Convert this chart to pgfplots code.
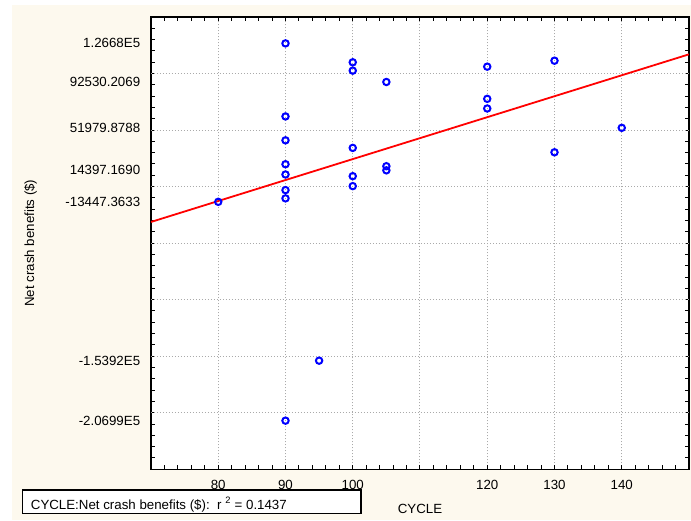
\documentclass[border=0pt]{standalone}
\usepackage{fontspec}
\setmainfont{Liberation Sans}
\usepackage{pgfplots}
\pgfplotsset{compat=1.18}
\definecolor{panel}{RGB}{253,249,238}
\definecolor{gridgray}{RGB}{170,170,170}

\begin{document}
\begin{tikzpicture}[x=1pt,y=1pt,font=\fontsize{13.3}{16}\selectfont]
% page extent and cream panel behind the plot
\path (-151,-50.7) rectangle (540,469.3);
\fill[panel] (-139,-50.7) rectangle (540,464.3);
\begin{axis}[
  scale only axis, width=538pt, height=452.3pt,
  xmin=70, xmax=150, ymin=-250000, ymax=150000,
  axis background/.style={fill=white},
  axis line style={black, line width=1.6pt},
  tick align=inside,
  major tick length=0pt, minor tick length=4pt,
  tick style={black, line width=1pt},
  xtick={80,90,100,110,120,130,140},
  xticklabels={80,90,100,,120,130,140},
  minor xtick={70,72,...,150},
  xmajorgrids=true,
  ytick={126680,92530.2069,51979.8788,14397.1690,-13447.3633,-153920,-206990},
  yticklabels={1.2668E5,92530.2069,51979.8788,14397.1690,-13447.3633,-1.5392E5,-2.0699E5},
  ymajorgrids=false,
  extra y ticks={-200000,-150000,-100000,-50000,0,50000,100000},
  extra y tick labels={},
  extra y tick style={grid=major},
  minor ytick={-250000,-240000,-230000,-220000,-210000,-200000,-190000,-180000,-170000,-160000,
               -150000,-140000,-130000,-120000,-110000,-100000,-90000,-80000,-70000,-60000,
               -50000,-40000,-30000,-20000,-10000,0,10000,20000,30000,40000,
               50000,60000,70000,80000,90000,100000,110000,120000,130000,140000,150000},
  major grid style={gridgray, line width=1pt, dash pattern=on 1.2pt off 1.8pt},
  yticklabel style={xshift=-7.3pt},
  xticklabel style={yshift=-7pt},
  scaled y ticks=false,
  xlabel={CYCLE},
  xlabel style={at={(axis description cs:0.5,-0.0882)}, anchor=center},
  ylabel={Net crash benefits (\$)},
  ylabel style={at={(axis description cs:-0.2236,0.5)}, anchor=center},
]
% observations
\addplot[only marks, mark=o, mark size=3.2pt, blue,
         mark options={solid, line width=2pt}] coordinates {
  (80,-13447.3633)
  (90,126680) (90,62060) (90,40930) (90,19800) (90,10730) (90,-3090) (90,-10400) (90,-206990)
  (95,-153920)
  (100,109950) (100,102560) (100,34240) (100,9240) (100,430)
  (105,92530.2069) (105,18040) (105,14397.1690)
  (120,106080) (120,77640) (120,69100)
  (130,111360) (130,30360)
  (140,51979.8788)
};
% fitted regression line
\addplot[red, line width=1.8pt] coordinates {(70,-31260) (150,116996)};
\end{axis}
% statistics box
\draw[line width=1.5pt, fill=white] (-128.7,-20.7) rectangle (210,-44);
\node[anchor=base west, inner sep=0pt] at (-120.3,-39.7)
  {CYCLE:Net crash benefits (\$):\ \ r \textsuperscript{2} = 0.1437};
\end{tikzpicture}
\end{document}
